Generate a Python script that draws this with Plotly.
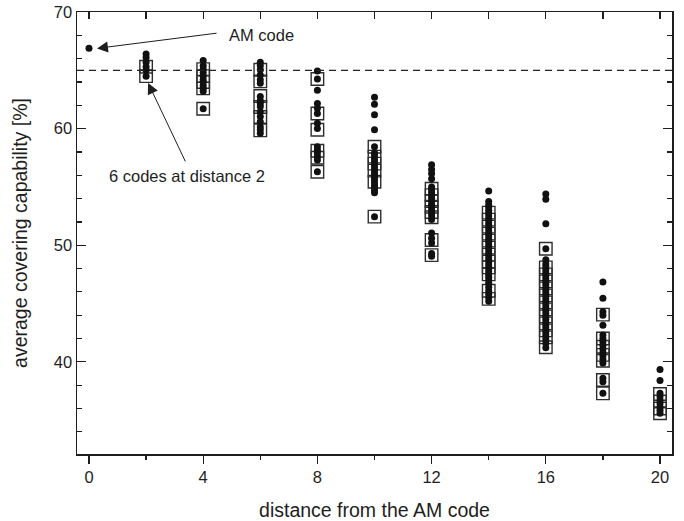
import plotly.graph_objects as go

# ---- data ----
distances = [0, 2, 4, 6, 8, 10, 12, 14, 16, 18, 20]

codes_d0 = [66.9]
codes_d2 = [66.4, 66.1, 65.7, 65.3, 65.0, 64.5]
codes_d4 = [65.85, 65.4, 65.1, 64.8, 64.5, 64.2, 64.0, 63.7, 63.45, 63.2, 61.7]
codes_d6 = [65.7, 65.4, 65.05, 64.6, 64.2, 63.9, 62.75, 62.4, 62.15, 61.9, 61.45,
            61.05, 60.6, 60.15, 59.9, 59.6]
codes_d8 = [64.95, 64.25, 63.3, 62.15, 61.75, 61.3, 60.45, 60.0, 58.45, 58.15,
            57.9, 57.6, 57.3, 56.3]
codes_d10 = [62.7, 62.1, 61.2, 59.9, 58.45, 57.9, 57.65, 57.4, 57.15, 56.9, 56.65,
             56.4, 56.15, 55.9, 55.65, 55.4, 55.15, 54.9, 54.7, 54.5, 52.45]
codes_d12 = [56.9, 56.5, 56.15, 55.7, 55.0, 54.75, 54.5, 54.25, 54.0, 53.75, 53.5,
             53.25, 53.0, 52.75, 52.5, 52.2, 51.05, 50.6, 50.2, 49.3, 49.05]
codes_d14 = [54.65, 53.75, 53.45, 53.25, 53.0, 52.75, 52.5, 52.25, 52.0, 51.75,
             51.5, 51.25, 51.0, 50.75, 50.5, 50.25, 50.0, 49.75, 49.5, 49.25, 49.0,
             48.75, 48.5, 48.25, 48.0, 47.75, 47.5, 47.25, 47.0, 46.75, 46.4, 46.1,
             45.8, 45.5, 45.2]
codes_d16 = [54.4, 53.95, 51.85, 49.7, 48.75, 48.4, 48.15, 47.9, 47.65, 47.4,
             47.15, 46.9, 46.65, 46.4, 46.15, 45.9, 45.65, 45.4, 45.15, 44.9, 44.65,
             44.4, 44.15, 43.9, 43.65, 43.4, 43.15, 42.9, 42.65, 42.4, 42.15, 41.9,
             41.6, 41.2]
codes_d18 = [46.85, 45.45, 44.3, 44.0, 43.15, 42.3, 42.0, 41.7, 41.4, 41.1, 40.8,
             40.5, 40.2, 39.9, 38.6, 38.3, 37.3]
codes_d20 = [39.35, 38.4, 37.3, 37.0, 36.7, 36.4, 36.1, 35.85, 35.6]

boxed_d0 = []
boxed_d2 = [65.3, 64.5]
boxed_d4 = [65.1, 64.5, 64.0, 63.45, 61.7]
boxed_d6 = [65.05, 64.05, 62.8, 61.85, 61.0, 59.85]
boxed_d8 = [64.25, 61.3, 59.9, 58.1, 57.5, 56.3]
boxed_d10 = [58.45, 57.6, 57.0, 56.4, 55.45, 52.45]
boxed_d12 = [54.85, 54.3, 53.8, 53.3, 52.85, 52.4, 50.45, 49.15]
boxed_d14 = [52.8, 52.2, 51.6, 51.0, 50.4, 49.8, 49.2, 48.6, 48.1, 47.5, 46.1, 45.4]
boxed_d16 = [49.7, 48.1, 47.5, 46.9, 46.3, 45.7, 45.1, 44.5, 43.9, 43.3, 42.7,
             42.1, 41.25]
boxed_d18 = [44.05, 42.0, 41.3, 40.6, 40.1, 38.45, 37.3]
boxed_d20 = [37.25, 36.6, 36.0, 35.6]

reference_level = 65.0

x_ticks = [0, 4, 8, 12, 16, 20]
y_ticks = [40, 50, 60, 70]

codes = [codes_d0, codes_d2, codes_d4, codes_d6, codes_d8, codes_d10,
         codes_d12, codes_d14, codes_d16, codes_d18, codes_d20]
boxed = [boxed_d0, boxed_d2, boxed_d4, boxed_d6, boxed_d8, boxed_d10,
         boxed_d12, boxed_d14, boxed_d16, boxed_d18, boxed_d20]

cx, cy, bx, by = [], [], [], []
for d, c, b in zip(distances, codes, boxed):
    cx += [d] * len(c)
    cy += c
    bx += [d] * len(b)
    by += b

FONT = "Liberation Sans, Arial, Helvetica, sans-serif"
INK = "#1e1e1e"

fig = go.Figure()
fig.add_trace(go.Scatter(
    x=bx, y=by, mode="markers", showlegend=False, hoverinfo="skip",
    marker=dict(symbol="square-open", size=12.5, color="#2e2e2e",
                line=dict(width=1.4, color="#2e2e2e")),
))
fig.add_trace(go.Scatter(
    x=cx, y=cy, mode="markers", showlegend=False,
    marker=dict(symbol="circle", size=7, color="#111111", line=dict(width=0)),
))
# invisible trace to anchor the top axis
fig.add_trace(go.Scatter(x=[distances[0]], y=[reference_level], xaxis="x2",
                         mode="markers", marker=dict(opacity=0), showlegend=False,
                         hoverinfo="skip"))

fig.add_shape(type="line", xref="paper", x0=0, x1=1, yref="y",
              y0=reference_level, y1=reference_level,
              line=dict(color="#222222", width=1.3, dash="7px,5px"))

# annotations
fig.add_annotation(x=4.83, y=68.03, text="AM code", showarrow=False,
                   xanchor="left", yanchor="middle",
                   font=dict(family=FONT, size=16.5, color=INK))
fig.add_annotation(x=0.28, y=66.88, ax=4.52, ay=68.2, axref="x", ayref="y",
                   text="", showarrow=True, arrowhead=2, arrowsize=2.2,
                   arrowwidth=1, arrowcolor=INK, standoff=0)
fig.add_annotation(x=0.63, y=55.95, text="6 codes at distance 2", showarrow=False,
                   xanchor="left", yanchor="middle",
                   font=dict(family=FONT, size=16.5, color=INK))
fig.add_annotation(x=2.07, y=63.92, ax=3.4, ay=57.06, axref="x", ayref="y",
                   text="", showarrow=True, arrowhead=2, arrowsize=2.2,
                   arrowwidth=1, arrowcolor=INK, standoff=0)

fig.update_layout(
    width=684, height=521,
    margin=dict(l=77, r=12, t=12, b=67),
    paper_bgcolor="white", plot_bgcolor="white",
    font=dict(family=FONT, size=16, color=INK),
    showlegend=False,
    xaxis=dict(
        range=[-0.42, 20.42], tickvals=x_ticks, ticks="outside", ticklen=8,
        tickwidth=1.2, tickcolor=INK, showline=True, linecolor=INK, linewidth=1.5,
        showgrid=False, zeroline=False, automargin=False, ticklabeloverflow="allow",
        minor=dict(dtick=2, tick0=0, ticks="outside", ticklen=4, tickwidth=1.2,
                   tickcolor=INK, showgrid=False),
        tickfont=dict(size=16.5),
        title=dict(text="distance from the AM code", font=dict(size=19.5), standoff=25),
    ),
    xaxis2=dict(
        range=[-0.42, 20.42], overlaying="x", side="top", tick0=0, dtick=2,
        ticks="inside", ticklen=7, tickwidth=1.2, tickcolor=INK,
        showticklabels=False, showline=True, linecolor=INK, linewidth=1.5,
        showgrid=False, zeroline=False, automargin=False,
    ),
    yaxis=dict(
        range=[32.1, 70], tickvals=y_ticks, ticks="inside", ticklen=9,
        tickwidth=1.2, tickcolor=INK, showline=True, linecolor=INK, linewidth=1.5,
        mirror="ticks", showgrid=False, zeroline=False, automargin=False,
        ticklabeloverflow="allow",
        minor=dict(dtick=2, tick0=0, ticks="inside", ticklen=5, tickwidth=1.2,
                   tickcolor=INK, showgrid=False),
        tickfont=dict(size=16.5), ticklabelstandoff=0,
        title=dict(text="average covering capability [%]", font=dict(size=19.5),
                   standoff=21),
    ),
)

# place the figure flush with the page corner (no default body margin)
fig.write_html("out.html",
               config={"displayModeBar": False, "staticPlot": True},
               post_script="document.body.style.margin='0';"
                           "document.body.style.padding='0';")
